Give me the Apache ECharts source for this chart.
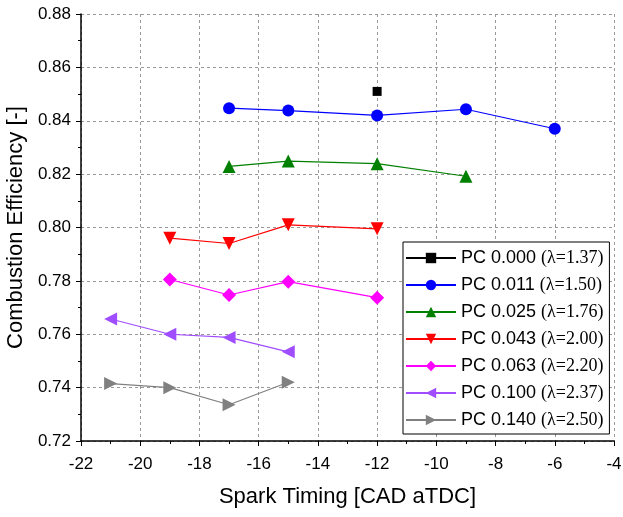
<!DOCTYPE html>
<html><head><meta charset="utf-8">
<script src="https://cdn.jsdelivr.net/npm/echarts@6/dist/echarts.min.js"></script>
<style>html,body{margin:0;padding:0;background:#fff}#c{width:623px;height:517px}</style>
</head><body><div id="c"></div>
<script>
const seriesNames = ['PC 0.000', 'PC 0.011', 'PC 0.025', 'PC 0.043', 'PC 0.063', 'PC 0.100', 'PC 0.140'];
const lambdas = ['1.37', '1.50', '1.76', '2.00', '2.20', '2.37', '2.50'];
const pc000 = [[-12, 0.851]];
const pc011 = [[-17, 0.8447], [-15, 0.8438], [-12, 0.8420], [-9, 0.8443], [-6, 0.8370]];
const pc025 = [[-17, 0.8229], [-15, 0.8249], [-12, 0.8239], [-9, 0.8192]];
const pc043 = [[-19, 0.7960], [-17, 0.7940], [-15, 0.8010], [-12, 0.7995]];
const pc063 = [[-19, 0.7805], [-17, 0.7747], [-15, 0.7797], [-12, 0.7737]];
const pc100 = [[-21, 0.7657], [-19, 0.7600], [-17, 0.7588], [-15, 0.7534]];
const pc140 = [[-21, 0.7415], [-19, 0.7400], [-17, 0.7336], [-15, 0.7420]];
const xTicks = {min: -22, max: -4, interval: 2};
const yTicks = {min: 0.72, max: 0.88, interval: 0.02};

const datas = [pc000, pc011, pc025, pc043, pc063, pc100, pc140];
const colors = ['#000000', '#0000ff', '#008000', '#ff0000', '#ff00ff', '#a04cff', '#808080'];
const symbols = ['rect', 'circle', 'triangle', 'path://M0,0 L10,0 L5,10 Z', 'diamond', 'path://M10,0 L10,10 L0,5 Z', 'path://M0,0 L0,10 L10,5 Z'];
const sizes = [9, 12, 13, 13, 14, 13, 13];

const chart = echarts.init(document.getElementById('c'), null, {renderer: 'canvas'});
const axisFont = {color: '#000', fontSize: 17, fontFamily: 'Liberation Sans'};
chart.setOption({
  animation: false,
  grid: {left: 81, right: 9, top: 14, bottom: 76, containLabel: false, outerBoundsMode: 'none'},
  xAxis: {
    type: 'value', min: xTicks.min, max: xTicks.max, interval: xTicks.interval,
    name: 'Spark Timing [CAD aTDC]', nameLocation: 'middle', nameGap: 45,
    nameTextStyle: {color: '#000', fontSize: 22, fontFamily: 'Liberation Sans'},
    axisLine: {show: true, onZero: false, lineStyle: {color: '#000', width: 1.5}},
    axisTick: {show: true, length: 5, lineStyle: {color: '#000', width: 1}},
    minorTick: {show: true, splitNumber: 2, length: 3, lineStyle: {color: '#000'}},
    axisLabel: Object.assign({margin: 15}, axisFont),
    splitLine: {show: true, lineStyle: {color: '#999', type: [3, 3], width: 1}}
  },
  yAxis: {
    type: 'value', min: yTicks.min, max: yTicks.max, interval: yTicks.interval,
    name: 'Combustion Efficiency [-]', nameLocation: 'middle', nameGap: 53,
    nameTextStyle: {color: '#000', fontSize: 22, fontFamily: 'Liberation Sans'},
    axisLine: {show: true, onZero: false, lineStyle: {color: '#000', width: 1.5}},
    axisTick: {show: true, length: 5, lineStyle: {color: '#000', width: 1}},
    minorTick: {show: true, splitNumber: 2, length: 3, lineStyle: {color: '#000'}},
    axisLabel: Object.assign({margin: 10, formatter: v => v.toFixed(2)}, axisFont),
    splitLine: {show: true, lineStyle: {color: '#999', type: [3, 3], width: 1}}
  },
  legend: {
    orient: 'vertical', left: 403, top: 242,
    backgroundColor: '#fff', borderColor: '#000', borderWidth: 1,
    padding: [7, 6, 5, 2], itemGap: 9, itemWidth: 50, itemHeight: 13,
    data: seriesNames,
    formatter: name => {
      const i = seriesNames.indexOf(name);
      return '{a|' + name + ' }{b|(λ=' + lambdas[i] + ')}';
    },
    textStyle: {
      color: '#000',
      rich: {
        a: {fontSize: 18, fontFamily: 'Liberation Sans', color: '#000'},
        b: {fontSize: 18, fontFamily: 'Liberation Serif', color: '#000'}
      }
    }
  },
  series: seriesNames.map((n, i) => ({
    name: n, type: 'line', data: datas[i],
    symbol: symbols[i], symbolSize: sizes[i], showAllSymbol: true,
    itemStyle: {color: colors[i]},
    lineStyle: {color: colors[i], width: 1.2}
  }))
});
</script></body></html>
